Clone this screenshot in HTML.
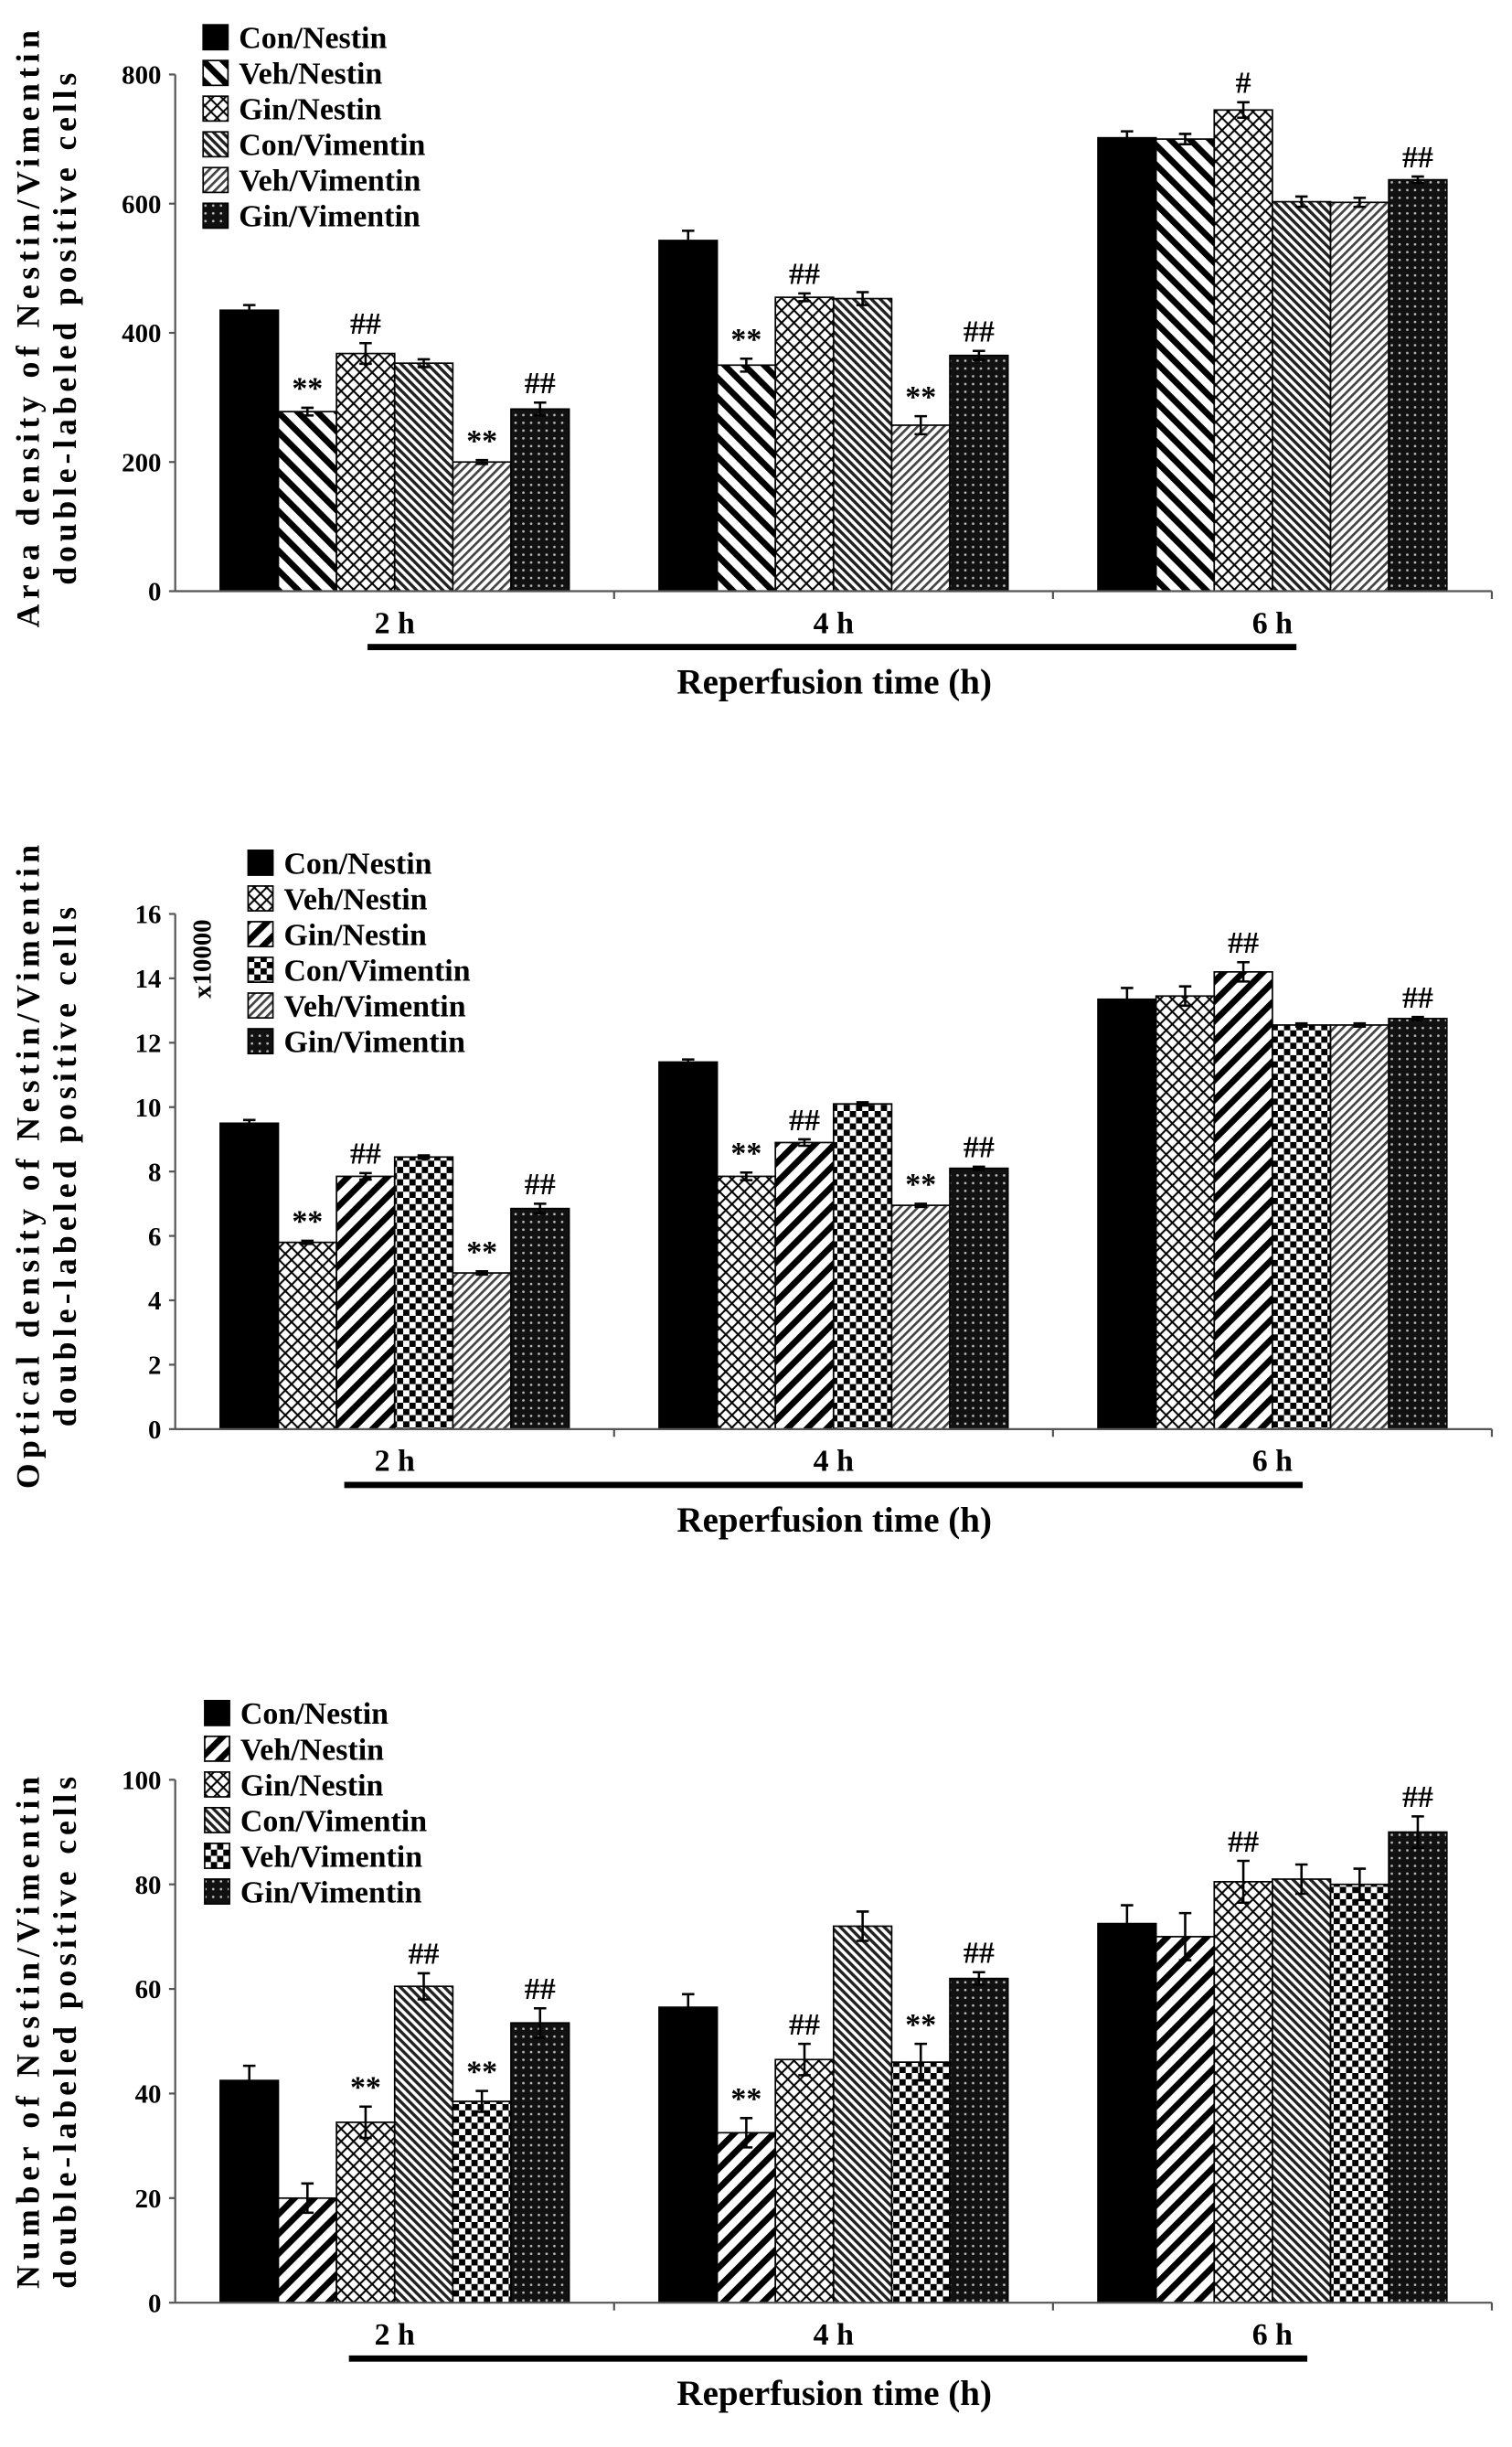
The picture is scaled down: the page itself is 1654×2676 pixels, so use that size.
<!DOCTYPE html>
<html><head><meta charset="utf-8"><style>html,body{margin:0;padding:0;background:#fff}svg{display:block}</style></head>
<body>
<svg id="fig" xmlns="http://www.w3.org/2000/svg" width="1654" height="2676" viewBox="0 0 975 1577" preserveAspectRatio="none" font-family="'Liberation Serif', serif" font-weight="bold">
<defs>
<pattern id="pThickB" patternUnits="userSpaceOnUse" width="9" height="9" patternTransform="rotate(-45)"><rect width="9" height="9" fill="#fff"/><rect width="4" height="9" fill="#000"/></pattern>
<pattern id="pThickF" patternUnits="userSpaceOnUse" width="9" height="9" patternTransform="rotate(45)"><rect width="9" height="9" fill="#fff"/><rect width="4" height="9" fill="#000"/></pattern>
<pattern id="pCross" patternUnits="userSpaceOnUse" width="8" height="8"><rect width="8" height="8" fill="#fff"/><path d="M0,0L8,8M8,0L0,8" stroke="#000" stroke-width="1.2"/></pattern>
<pattern id="pDenseB" patternUnits="userSpaceOnUse" width="4" height="4" patternTransform="rotate(-45)"><rect width="4" height="4" fill="#fff"/><rect width="2" height="4" fill="#222"/></pattern>
<pattern id="pFineF" patternUnits="userSpaceOnUse" width="4" height="4" patternTransform="rotate(45)"><rect width="4" height="4" fill="#fff"/><rect width="1.6" height="4" fill="#444"/></pattern>
<pattern id="pDots" patternUnits="userSpaceOnUse" width="5" height="5"><rect width="5" height="5" fill="#111"/><circle cx="2.5" cy="2.5" r="0.8" fill="#bbb"/></pattern>
<pattern id="pChecker" patternUnits="userSpaceOnUse" width="8" height="8"><rect width="8" height="8" fill="#fff"/><rect width="4" height="4" fill="#000"/><rect x="4" y="4" width="4" height="4" fill="#000"/></pattern>
</defs>
<g id="charts"></g>
</svg>
<script>
const seriesNames = ["Con/Nestin","Veh/Nestin","Gin/Nestin","Con/Vimentin","Veh/Vimentin","Gin/Vimentin"];
const groupLabels = ["2 h","4 h","6 h"];
// Chart 1: area density
const c1Vals2h = [435,278,368,353,200,282];
const c1Vals4h = [543,350,455,453,257,365];
const c1Vals6h = [702,700,745,603,602,637];
const c1Err2h = [8,6,16,6,3,10];
const c1Err4h = [15,10,6,10,14,7];
const c1Err6h = [10,8,12,8,7,5];
const c1Marks2h = ["","**","##","","**","##"];
const c1Marks4h = ["","**","##","","**","##"];
const c1Marks6h = ["","","#","","","##"];
const c1Ticks = [0,200,400,600,800];
// Chart 2: optical density
const c2Vals2h = [9.5,5.8,7.85,8.45,4.85,6.85];
const c2Vals4h = [11.4,7.85,8.9,10.1,6.95,8.1];
const c2Vals6h = [13.35,13.45,14.2,12.55,12.55,12.75];
const c2Err2h = [0.1,0.05,0.1,0.05,0.05,0.15];
const c2Err4h = [0.08,0.12,0.1,0.05,0.05,0.05];
const c2Err6h = [0.35,0.3,0.3,0.05,0.05,0.05];
const c2Marks2h = ["","**","##","","**","##"];
const c2Marks4h = ["","**","##","","**","##"];
const c2Marks6h = ["","","##","","","##"];
const c2Ticks = [0,2,4,6,8,10,12,14,16];
// Chart 3: number of cells
const c3Vals2h = [42.5,20,34.5,60.5,38.5,53.5];
const c3Vals4h = [56.5,32.5,46.5,72,46,62];
const c3Vals6h = [72.5,70,80.5,81,80,90];
const c3Err2h = [2.8,2.8,3,2.5,2,2.8];
const c3Err4h = [2.5,2.8,3,2.8,3.5,1.2];
const c3Err6h = [3.5,4.5,4,2.8,3,3];
const c3Marks2h = ["","","**","##","**","##"];
const c3Marks4h = ["","**","##","","**","##"];
const c3Marks6h = ["","","##","","","##"];
const c3Ticks = [0,20,40,60,80,100];

const NS = "http://www.w3.org/2000/svg";
const root = document.getElementById('charts');
function mk(tag, attrs, parent, text){
  const e = document.createElementNS(NS, tag);
  for (const k in attrs) e.setAttribute(k, attrs[k]);
  if (text !== undefined) e.textContent = text;
  (parent||root).appendChild(e);
  return e;
}
function drawChart(cfg){
  const g = mk('g', {});
  
  
  const x0 = 113, x1 = 962;
  const yScale = v => cfg.y0 - (v - cfg.min) / (cfg.max - cfg.min) * (cfg.y0 - cfg.yTop);
  const gw = (x1 - x0) / 3, bw = 37.5, pad = (gw - 6*bw)/2;
  const xBar = (gi, si) => x0 + gi*gw + pad + si*bw;
  const ya = mk('line', {x1:x0, y1:yScale(cfg.max), x2:x0, y2:cfg.y0, stroke:'#555', 'stroke-width':1.3}, g);
  
  
  cfg.ticks.forEach(t => {
    const y = yScale(t);
    mk('line', {x1:x0-4, y1:y, x2:x0, y2:y, stroke:'#555', 'stroke-width':1.3}, g);
    const tl = mk('text', {x:x0-9, y:y+6, 'text-anchor':'end', 'font-size':17}, g, String(t));
    
    
  });
  cfg.vals.forEach((arr, gi) => {
    arr.forEach((v, si) => {
      const bx = xBar(gi, si), by = yScale(v);
      const r = mk('rect', {x:bx, y:by, width:bw, height:cfg.y0-by, fill:cfg.fills[si], stroke:'#000', 'stroke-width':1}, g);
      
      
      const e = cfg.errs[gi][si], cx = bx + bw/2;
      const ey = yScale(v + e);
      mk('path', {d:`M${cx},${yScale(v)}V${ey}M${cx-4},${ey}H${cx+4}M${cx-4},${yScale(v-e)}H${cx+4}M${cx},${yScale(v)}V${yScale(v-e)}`, stroke:'#000', 'stroke-width':1.5, fill:'none'}, g);
      const m = cfg.marks[gi][si];
      if (m) {
        const t = mk('text', {x:cx, y:ey-6, 'text-anchor':'middle', 'font-size':20}, g, m);
        
        
      }
    });
  });
  const xa = mk('line', {x1:x0, y1:cfg.y0, x2:x1, y2:cfg.y0, stroke:'#555', 'stroke-width':1.3}, g);
  
  
  [1,2,3].forEach(i => mk('line', {x1:x0+i*gw, y1:cfg.y0, x2:x0+i*gw, y2:cfg.y0+5, stroke:'#555', 'stroke-width':1.3}, g));
  groupLabels.forEach((lab, gi) => {
    const t = mk('text', {x:x0+gi*gw+gw/2, y:cfg.y0+27, 'text-anchor':'middle', 'font-size':20}, g, lab);
    
    
  });
  const bl = mk('rect', {x:cfg.lineX1, y:cfg.y0+34, width:cfg.lineX2-cfg.lineX1, height:4, fill:'#000'}, g);
  
  
  const xt = mk('text', {x:538, y:cfg.y0+66, 'text-anchor':'middle', 'font-size':23}, g, 'Reperfusion time (h)');
  
  
  const yc = cfg.yTitleC;
  const t1 = mk('text', {x:0, y:0, 'text-anchor':'middle', 'font-size':21, transform:`translate(25,${yc}) rotate(-90)`, textLength:cfg.yTitleLen, lengthAdjust:'spacing'}, g, cfg.yTitle1);
  
  
  const t2 = mk('text', {x:0, y:0, 'text-anchor':'middle', 'font-size':21, transform:`translate(49,${yc}) rotate(-90)`, textLength:cfg.yTitleLen2, lengthAdjust:'spacing'}, g, 'double-labeled positive cells');
  
  
  const lg = mk('g', {}, g);
  
  
  seriesNames.forEach((s, i) => {
    const y = cfg.legY + i*cfg.legStep;
    mk('rect', {x:cfg.legX, y:y-8, width:16, height:16, fill:cfg.fills[i], stroke:'#000', 'stroke-width':1}, lg);
    const t = mk('text', {x:cfg.legX+23, y:y+7, 'font-size':20}, lg, s);
    
    
  });
  if (cfg.unit) {
    const u = mk('text', {x:0, y:0, 'text-anchor':'middle', 'font-size':17, transform:`translate(136,${cfg.unitY}) rotate(-90)`}, g, cfg.unit);
    
    
  }
}
drawChart({name:'area-density-chart', y0:381, yTop:48, min:0, max:800, ticks:c1Ticks,
  vals:[c1Vals2h,c1Vals4h,c1Vals6h], errs:[c1Err2h,c1Err4h,c1Err6h], marks:[c1Marks2h,c1Marks4h,c1Marks6h],
  fills:['#000','url(#pThickB)','url(#pCross)','url(#pDenseB)','url(#pFineF)','url(#pDots)'],
  lineX1:237, lineX2:836, yTitle1:'Area density of Nestin/Vimentin', yTitleC:212, yTitleLen:385, yTitleLen2:330,
  legX:131, legY:24, legStep:23});
drawChart({name:'optical-density-chart', y0:921, yTop:589, min:0, max:16, ticks:c2Ticks,
  vals:[c2Vals2h,c2Vals4h,c2Vals6h], errs:[c2Err2h,c2Err4h,c2Err6h], marks:[c2Marks2h,c2Marks4h,c2Marks6h],
  fills:['#000','url(#pCross)','url(#pThickF)','url(#pChecker)','url(#pFineF)','url(#pDots)'],
  lineX1:222, lineX2:840, yTitle1:'Optical density of Nestin/Vimentin', yTitleC:752, yTitleLen:415, yTitleLen2:335,
  legX:160, legY:556, legStep:23, unit:'x10000', unitY:618});
drawChart({name:'cell-number-chart', y0:1484, yTop:1147, min:0, max:100, ticks:c3Ticks,
  vals:[c3Vals2h,c3Vals4h,c3Vals6h], errs:[c3Err2h,c3Err4h,c3Err6h], marks:[c3Marks2h,c3Marks4h,c3Marks6h],
  fills:['#000','url(#pThickF)','url(#pCross)','url(#pDenseB)','url(#pChecker)','url(#pDots)'],
  lineX1:225, lineX2:843, yTitle1:'Number of Nestin/Vimentin', yTitleC:1310, yTitleLen:330, yTitleLen2:330,
  legX:132, legY:1104, legStep:23});
</script>
</body></html>
